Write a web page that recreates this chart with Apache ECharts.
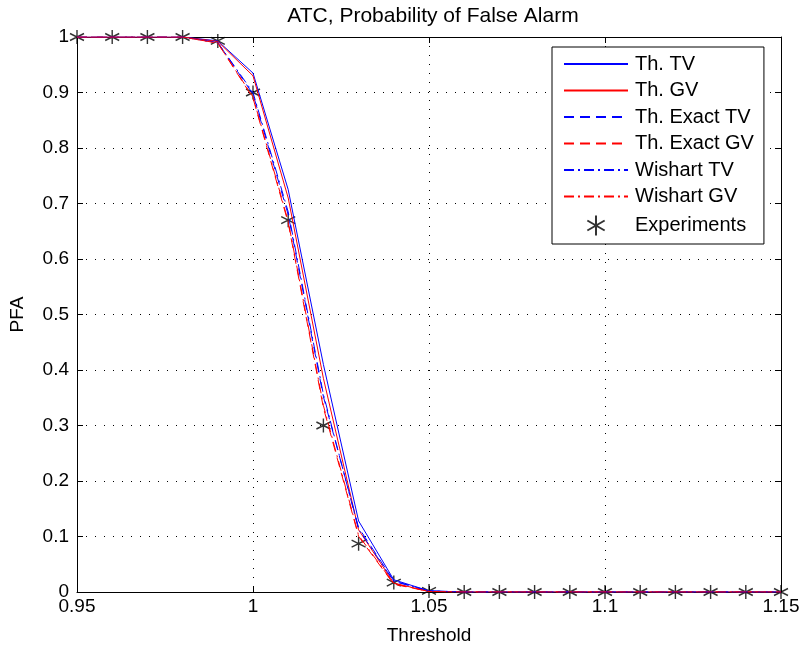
<!DOCTYPE html>
<html>
<head>
<meta charset="utf-8">
<script src="https://cdn.jsdelivr.net/npm/echarts@6/dist/echarts.min.js"></script>
<style>
html, body { margin: 0; padding: 0; background: #fff; }
#main { width: 803px; height: 651px; }
</style>
</head>
<body>
<div id="main"></div>
<script>
var thresholds = [0.95, 0.96, 0.97, 0.98, 0.99, 1.00, 1.01, 1.02, 1.03, 1.04, 1.05,
                  1.06, 1.07, 1.08, 1.09, 1.10, 1.11, 1.12, 1.13, 1.14, 1.15];
var thTV      = [1, 1, 1, 1, 0.993, 0.935, 0.725, 0.41, 0.128, 0.022, 0.002, 0, 0, 0, 0, 0, 0, 0, 0, 0, 0];
var thGV      = [1, 1, 1, 1, 0.992, 0.930, 0.710, 0.385, 0.112, 0.016, 0.001, 0, 0, 0, 0, 0, 0, 0, 0, 0, 0];
var exactTV   = [1, 1, 1, 1, 0.990, 0.897, 0.680, 0.352, 0.116, 0.020, 0.002, 0, 0, 0, 0, 0, 0, 0, 0, 0, 0];
var exactGV   = [1, 1, 1, 1, 0.989, 0.890, 0.665, 0.332, 0.100, 0.014, 0.001, 0, 0, 0, 0, 0, 0, 0, 0, 0, 0];
var wishartTV = [1, 1, 1, 1, 0.990, 0.900, 0.685, 0.356, 0.113, 0.019, 0.002, 0, 0, 0, 0, 0, 0, 0, 0, 0, 0];
var wishartGV = [1, 1, 1, 1, 0.989, 0.892, 0.668, 0.336, 0.102, 0.015, 0.001, 0, 0, 0, 0, 0, 0, 0, 0, 0, 0];
var experiments = [1, 1, 1, 1, 0.993, 0.900, 0.670, 0.300, 0.087, 0.017, 0.002, 0, 0, 0, 0, 0, 0, 0, 0, 0, 0];
var lineNames = ['Th. TV', 'Th. GV', 'Th. Exact TV', 'Th. Exact GV', 'Wishart TV', 'Wishart GV'];

var FONT = 'Liberation Sans, Arial, sans-serif';
var FS = 19;
var asterisk = 'path://M0,-10L0,10M-8.66,-5L8.66,5M-8.66,5L8.66,-5';

function pairs(ys) {
    return thresholds.map(function (x, i) { return [x, ys[i]]; });
}

function lineSeries(name, ys, color, type) {
    return {
        name: name,
        type: 'line',
        data: pairs(ys),
        symbol: 'none',
        animation: false,
        lineStyle: { color: color, width: 1, type: type },
        itemStyle: { color: color }
    };
}

// legend entries: lines only, no marker; the asterisk for experiments
var legendData = lineNames.map(function (n) {
    return { name: n, itemStyle: { opacity: 0 } };
});
legendData.push({ name: 'Experiments' });

var myChart = echarts.init(document.getElementById('main'));
var option = {
    backgroundColor: '#fff',
    animation: false,
    title: {
        text: 'ATC, Probability of False Alarm',
        left: 428,
        textAlign: 'center',
        top: 1,
        textStyle: { fontFamily: FONT, fontSize: 21, fontWeight: 'normal', color: '#000' }
    },
    grid: { left: 76, right: 22, top: 37, bottom: 59 },
    legend: {
        orient: 'vertical',
        left: 552,
        top: 47,
        padding: [7, 10, 6, 11],
        itemGap: 6.5,
        itemWidth: 64,
        itemHeight: 20,
        backgroundColor: '#fff',
        borderColor: '#000',
        borderWidth: 1,
        textStyle: { fontFamily: FONT, fontSize: 20, color: '#000', padding: [0, 0, 0, 2] },
        data: legendData
    },
    xAxis: [{
        type: 'value',
        min: 0.95,
        max: 1.15,
        interval: 0.05,
        name: 'Threshold',
        nameLocation: 'middle',
        nameGap: 34,
        nameTextStyle: { fontFamily: FONT, fontSize: FS, color: '#000' },
        axisLine: { onZero: false, lineStyle: { color: '#000', width: 1 } },
        axisTick: { inside: true, length: 6, lineStyle: { color: '#000' } },
        axisLabel: {
            fontFamily: FONT, fontSize: FS, color: '#000', margin: 5,
            formatter: function (v) { return String(+v.toFixed(2)); }
        },
        splitLine: { show: true, lineStyle: { color: '#000', type: [1, 8], width: 1 } }
    }, {
        type: 'value',
        position: 'top',
        min: 0.95,
        max: 1.15,
        interval: 0.05,
        axisLine: { onZero: false, lineStyle: { color: '#000', width: 1 } },
        axisTick: { inside: true, length: 6, lineStyle: { color: '#000' } },
        axisLabel: { show: false },
        splitLine: { show: false }
    }],
    yAxis: [{
        type: 'value',
        min: 0,
        max: 1,
        interval: 0.1,
        name: 'PFA',
        nameLocation: 'middle',
        nameGap: 50,
        nameTextStyle: { fontFamily: FONT, fontSize: FS, color: '#000' },
        axisLine: { show: true, onZero: false, lineStyle: { color: '#000', width: 1 } },
        axisTick: { show: true, inside: true, length: 6, lineStyle: { color: '#000' } },
        axisLabel: {
            fontFamily: FONT, fontSize: FS, color: '#000', margin: 8,
            formatter: function (v) { return String(+v.toFixed(1)); }
        },
        splitLine: { show: true, lineStyle: { color: '#000', type: [1, 8], width: 1 } }
    }, {
        type: 'value',
        position: 'right',
        min: 0,
        max: 1,
        interval: 0.1,
        axisLine: { show: true, onZero: false, lineStyle: { color: '#000', width: 1 } },
        axisTick: { show: true, inside: true, length: 6, lineStyle: { color: '#000' } },
        axisLabel: { show: false },
        splitLine: { show: false }
    }],
    series: [
        lineSeries(lineNames[0], thTV, '#0000ff', 'solid'),
        lineSeries(lineNames[1], thGV, '#ff0000', 'solid'),
        lineSeries(lineNames[2], exactTV, '#0000ff', [10, 6]),
        lineSeries(lineNames[3], exactGV, '#ff0000', [10, 6]),
        lineSeries(lineNames[4], wishartTV, '#0000ff', [10, 4, 2, 4]),
        lineSeries(lineNames[5], wishartGV, '#ff0000', [10, 4, 2, 4]),
        {
            name: 'Experiments',
            type: 'scatter',
            data: pairs(experiments),
            symbol: asterisk,
            symbolSize: 14,
            animation: false,
            itemStyle: { color: 'none', borderColor: '#000', borderWidth: 1.4 }
        }
    ]
};
myChart.setOption(option);
</script>
</body>
</html>
